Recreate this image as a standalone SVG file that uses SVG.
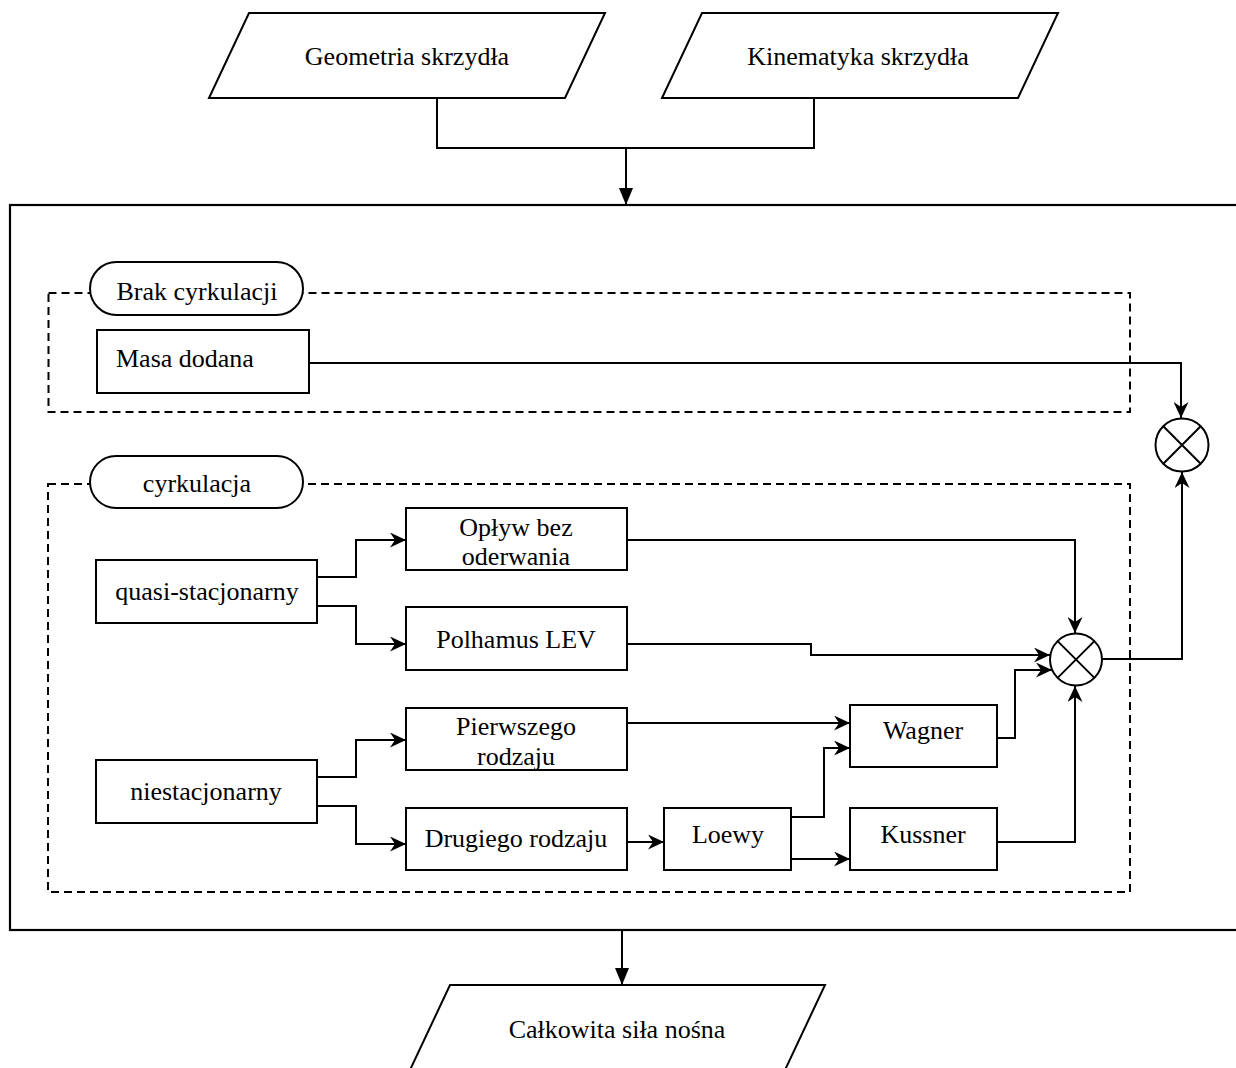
<svg xmlns="http://www.w3.org/2000/svg" width="1236" height="1068" viewBox="0 0 1236 1068">
<style>
  .n { fill: #fff; stroke: #000; stroke-width: 2; }
  .dash { fill: none; stroke: #000; stroke-width: 2; stroke-dasharray: 8 5; }
  .t { font-family: "Liberation Serif", "Times New Roman", serif; font-size: 26px; fill: #000; text-anchor: middle; }
  .c { fill: none; stroke: #000; stroke-width: 2; }
  .ca { fill: none; stroke: #000; stroke-width: 2; marker-end: url(#arr); }
  .ct { fill: none; stroke: #000; stroke-width: 2; marker-end: url(#tri); }
</style>
<defs>
  <marker id="arr" markerUnits="userSpaceOnUse" markerWidth="17" markerHeight="15" refX="16" refY="7.5" orient="auto" viewBox="0 0 17 15">
    <path d="M0,0 L16,7.5 L0,15 L5,7.5 z" fill="#000"/>
  </marker>
  <marker id="tri" markerUnits="userSpaceOnUse" markerWidth="17" markerHeight="14" refX="17" refY="7" orient="auto" viewBox="0 0 17 14">
    <path d="M0,0 L17,7 L0,14 z" fill="#000"/>
  </marker>
  <clipPath id="clipP"><rect x="407" y="709" width="219" height="60"/></clipPath>
  <clipPath id="clipO"><rect x="407" y="509" width="219" height="60"/></clipPath>
</defs>
<rect width="1236" height="1068" fill="#fff"/>

<g id="main-box"><rect x="10" y="205" width="1240" height="725" fill="none" stroke="#000" stroke-width="2.2"/></g>

<g id="group-brak"><rect class="dash" x="48.5" y="293" width="1081.5" height="119"/></g>
<g id="group-cyrk"><rect class="dash" x="48" y="484" width="1082" height="408"/></g>

<g id="connectors">
  <path class="c" d="M437,98 V148 H814 V98"/>
  <path class="ct" d="M626,148 V205"/>
  <path class="ca" d="M309,363 H1181 V418"/>
  <path class="ca" d="M317,577 H356 V540 H406"/>
  <path class="ca" d="M317,606 H356 V644 H406"/>
  <path class="ca" d="M317,777 H356 V740 H406"/>
  <path class="ca" d="M317,806 H356 V844 H406"/>
  <path class="ca" d="M627,540 H1075 V633"/>
  <path class="ca" d="M627,644 H811 V655 H1050"/>
  <path class="ca" d="M627,723 H850"/>
  <path class="ca" d="M997,738 H1015 V670 H1052"/>
  <path class="ca" d="M627,842 H664"/>
  <path class="ca" d="M791,817 H824 V748 H850"/>
  <path class="ca" d="M791,859 H850"/>
  <path class="ca" d="M997,842 H1075 V686"/>
  <path class="ca" d="M1102,659 H1182 V472"/>
  <path class="ct" d="M622,930 V985"/>
</g>

<g id="geometria">
  <polygon class="n" points="249,13 605,13 565,98 209,98"/>
  <text class="t" x="407" y="65">Geometria skrzydła</text>
</g>
<g id="kinematyka">
  <polygon class="n" points="702,13 1058,13 1018,98 662,98"/>
  <text class="t" x="858" y="65">Kinematyka skrzydła</text>
</g>

<g id="brak-cyrkulacji">
  <rect class="n" x="90" y="262" width="213" height="53" rx="26.5"/>
  <text class="t" x="197" y="300">Brak cyrkulacji</text>
</g>
<g id="masa-dodana">
  <rect class="n" x="97" y="330" width="212" height="63"/>
  <text class="t" x="116" y="367" style="text-anchor:start">Masa dodana</text>
</g>

<g id="cyrkulacja">
  <rect class="n" x="90" y="456" width="213" height="52" rx="26"/>
  <text class="t" x="197" y="492">cyrkulacja</text>
</g>

<g id="quasi">
  <rect class="n" x="96" y="560" width="221" height="63"/>
  <text class="t" x="207" y="600">quasi-stacjonarny</text>
</g>
<g id="oplyw">
  <rect class="n" x="406" y="508" width="221" height="62"/>
  <g clip-path="url(#clipO)">
    <text class="t" x="516" y="536">Opływ bez</text>
    <text class="t" x="516" y="565">oderwania</text>
  </g>
</g>
<g id="polhamus">
  <rect class="n" x="406" y="607" width="221" height="63"/>
  <text class="t" x="516" y="648">Polhamus LEV</text>
</g>

<g id="niestacjonarny">
  <rect class="n" x="96" y="760" width="221" height="63"/>
  <text class="t" x="206" y="800">niestacjonarny</text>
</g>
<g id="pierwszego">
  <rect class="n" x="406" y="708" width="221" height="62"/>
  <g clip-path="url(#clipP)">
    <text class="t" x="516" y="735">Pierwszego</text>
    <text class="t" x="516" y="765">rodzaju</text>
  </g>
</g>
<g id="drugiego">
  <rect class="n" x="406" y="808" width="221" height="62"/>
  <text class="t" x="516" y="847">Drugiego rodzaju</text>
</g>
<g id="loewy">
  <rect class="n" x="664" y="808" width="127" height="62"/>
  <text class="t" x="728" y="843">Loewy</text>
</g>
<g id="wagner">
  <rect class="n" x="850" y="705" width="147" height="62"/>
  <text class="t" x="923" y="739">Wagner</text>
</g>
<g id="kussner">
  <rect class="n" x="850" y="808" width="147" height="62"/>
  <text class="t" x="923" y="843">Kussner</text>
</g>

<g id="sum-circ">
  <circle class="n" cx="1076" cy="659.5" r="26"/>
  <path class="c" d="M1057.6,641.1 L1094.4,677.9 M1094.4,641.1 L1057.6,677.9"/>
</g>
<g id="sum-total">
  <circle class="n" cx="1182" cy="445" r="26.5"/>
  <path class="c" d="M1163.3,426.3 L1200.7,463.7 M1200.7,426.3 L1163.3,463.7"/>
</g>

<g id="calkowita">
  <polygon class="n" points="450,985 825,985 785,1070 410,1070"/>
  <text class="t" x="617" y="1038">Całkowita siła nośna</text>
</g>
</svg>
